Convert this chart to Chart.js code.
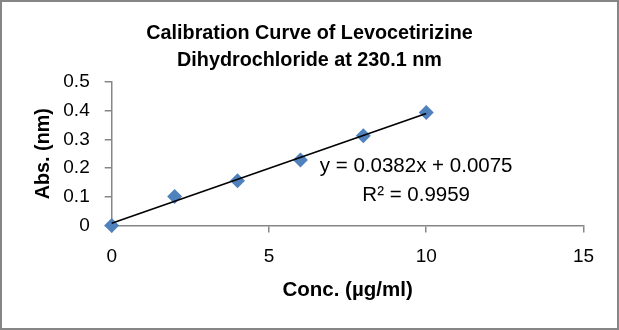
<!DOCTYPE html>
<html>
<head>
<meta charset="utf-8">
<script src="https://cdn.jsdelivr.net/npm/chart.js@4"></script>
<style>
  html, body { margin: 0; padding: 0; background: #fff; }
  #wrap { width: 619px; height: 330px; }
</style>
</head>
<body>
<div id="wrap"><canvas id="calChart" width="619" height="330"></canvas></div>
<script>
// data
const concValues = [0, 2, 4, 6, 8, 10];
const absValues = [0, 0.101, 0.156, 0.228, 0.312, 0.393];
const titleLines = ['Calibration Curve of Levocetirizine', 'Dihydrochloride at 230.1 nm'];
const fitSlope = 0.0382;
const fitIntercept = 0.0075;
const fitRange = [0, 10];
const equationLines = ['y = 0.0382x + 0.0075', 'R\u00b2 = 0.9959'];

const FONT = '"Liberation Sans", Arial, sans-serif';
const AXIS_GRAY = '#868686';

const scatterPoints = concValues.map((x, i) => ({ x: x, y: absValues[i] }));
const trendPoints = fitRange.map(x => ({ x: x, y: fitSlope * x + fitIntercept }));

// white background + grey outer frame
const framePlugin = {
    id: 'frame',
    beforeDraw(chart) {
        const ctx = chart.ctx;
        ctx.save();
        ctx.fillStyle = '#fff';
        ctx.fillRect(0, 0, chart.width, chart.height);
        ctx.restore();
    },
    afterDraw(chart) {
        const ctx = chart.ctx;
        ctx.save();
        ctx.strokeStyle = AXIS_GRAY;
        ctx.lineWidth = 2;
        ctx.strokeRect(1, 1, chart.width - 2, chart.height - 2);
        ctx.restore();
    }
};

// trendline equation label, placed in data units
const equationPlugin = {
    id: 'equation',
    afterDatasetsDraw(chart) {
        const ctx = chart.ctx;
        const xs = chart.scales.x, ys = chart.scales.y;
        const px = xs.getPixelForValue(9.68);
        const py = [ys.getPixelForValue(0.205), ys.getPixelForValue(0.104)];
        ctx.save();
        ctx.font = '20.5px ' + FONT;
        ctx.fillStyle = '#000';
        ctx.textAlign = 'center';
        ctx.textBaseline = 'middle';
        equationLines.forEach((t, i) => ctx.fillText(t, px, py[i]));
        ctx.restore();
    }
};

new Chart(document.getElementById('calChart'), {
    type: 'scatter',
    data: {
        datasets: [
            {
                label: 'Linear fit',
                type: 'line',
                data: trendPoints,
                borderColor: '#000',
                borderWidth: 1.6,
                pointRadius: 0,
                fill: false,
                clip: false,
                order: 0
            },
            {
                label: 'Absorbance',
                data: scatterPoints,
                pointStyle: 'rectRot',
                pointRadius: 7.5,
                pointHoverRadius: 7.5,
                backgroundColor: '#4f81bd',
                borderColor: '#4f81bd',
                borderWidth: 0,
                clip: false,
                order: 1
            }
        ]
    },
    options: {
        responsive: false,
        devicePixelRatio: 1,
        animation: false,
        layout: { padding: 0 },
        plugins: {
            legend: { display: false },
            tooltip: { enabled: false },
            title: {
                display: true,
                text: titleLines,
                color: '#000',
                font: { family: FONT, size: 19.8, weight: 'bold', lineHeight: 1.4 },
                padding: { top: 19.4, bottom: 7 }
            }
        },
        scales: {
            x: {
                type: 'linear',
                min: 0, max: 15,
                ticks: { stepSize: 5, color: '#000', padding: 13, font: { family: FONT, size: 19 } },
                grid: { drawOnChartArea: false, drawTicks: true, tickLength: 7, color: AXIS_GRAY, lineWidth: 1.5 },
                border: { color: AXIS_GRAY, width: 1.5 },
                title: {
                    display: true,
                    text: 'Conc. (\u00b5g/ml)',
                    color: '#000',
                    font: { family: FONT, size: 20.5, weight: 'bold', lineHeight: 1.2 },
                    padding: { top: 0, bottom: 27.7 }
                },
                afterFit(scale) {
                    scale.height = 104.5;
                    scale.paddingRight = 35.5;
                }
            },
            y: {
                type: 'linear',
                min: 0, max: 0.5,
                ticks: { stepSize: 0.1, color: '#000', padding: 15, font: { family: FONT, size: 19 } },
                grid: { drawOnChartArea: false, drawTicks: true, tickLength: 7, color: AXIS_GRAY, lineWidth: 1.5 },
                border: { color: AXIS_GRAY, width: 1.5 },
                title: {
                    display: true,
                    text: 'Abs. (nm)',
                    color: '#000',
                    font: { family: FONT, size: 19.8, weight: 'bold', lineHeight: 1.2 },
                    padding: { top: 31.3, bottom: 0 }
                },
                afterFit(scale) { scale.width = 111.7; }
            }
        }
    },
    plugins: [framePlugin, equationPlugin]
});
</script>
</body>
</html>
